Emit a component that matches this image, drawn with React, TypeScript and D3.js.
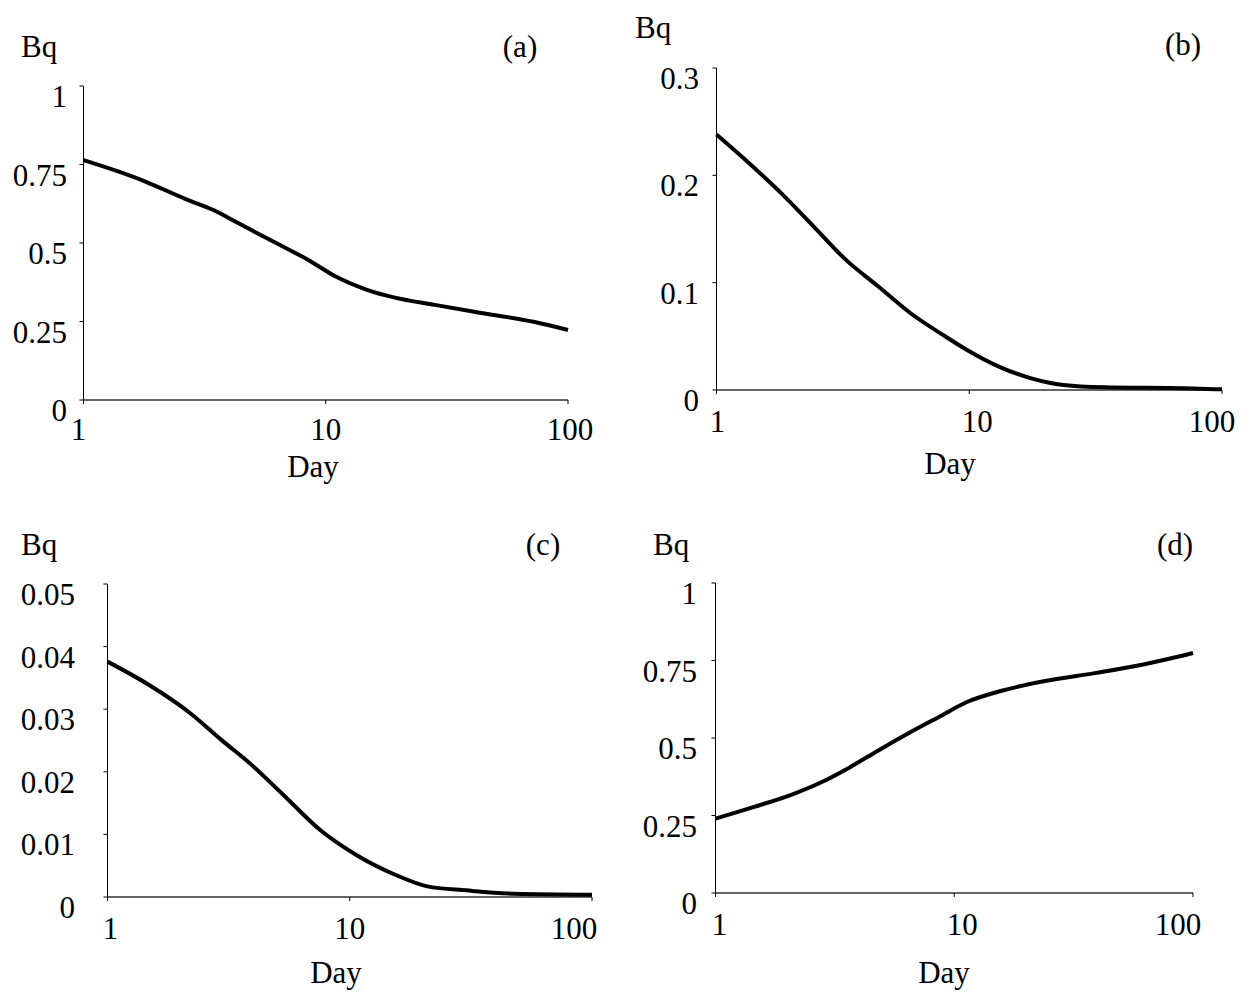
import React from "react";
import * as d3 from "d3";

// ---------- data ----------
const daysA = [1, 1.4, 1.81, 2.64, 3.44, 4.31, 6.27, 8.47, 11.0, 14.9, 19.3, 28.2, 41.0, 72.1, 100];
const valuesA = [0.764, 0.727, 0.695, 0.64, 0.605, 0.565, 0.499, 0.446, 0.393, 0.35, 0.326, 0.303, 0.281, 0.249, 0.223];

const daysB = [1, 1.35, 1.81, 2.43, 3.26, 4.37, 5.86, 7.87, 9.8, 13.1, 17.6, 23.6, 34.1, 71, 100];
const valuesB = [0.238, 0.211, 0.183, 0.152, 0.121, 0.0964, 0.0715, 0.0513, 0.0373, 0.0218, 0.0109, 0.0047, 0.0025, 0.0016, 0.0006];

const daysC = [1, 1.48, 2.19, 2.95, 3.99, 5.39, 7.55, 10.6, 15.4, 20.9, 30.4, 47.6, 100];
const valuesC = [0.0376, 0.0339, 0.0294, 0.0251, 0.0209, 0.0161, 0.0107, 0.00676, 0.00356, 0.0017, 0.00106, 0.00053, 0.00037];

const daysD = [1, 1.44, 2.13, 2.79, 3.66, 4.81, 6.57, 8.63, 11.3, 16.1, 23.7, 39.3, 62.7, 100];
const valuesD = [0.24, 0.277, 0.32, 0.358, 0.406, 0.46, 0.519, 0.568, 0.616, 0.654, 0.683, 0.71, 0.738, 0.774];

const xTicks = [1, 10, 100];
const xTickLabels = ["1", "10", "100"];
const yTicksA = [0, 0.25, 0.5, 0.75, 1];
const yTickLabelsA = ["0", "0.25", "0.5", "0.75", "1"];
const yTicksB = [0, 0.1, 0.2, 0.3];
const yTickLabelsB = ["0", "0.1", "0.2", "0.3"];
const yTicksC = [0, 0.01, 0.02, 0.03, 0.04, 0.05];
const yTickLabelsC = ["0", "0.01", "0.02", "0.03", "0.04", "0.05"];
const yTicksD = [0, 0.25, 0.5, 0.75, 1];
const yTickLabelsD = ["0", "0.25", "0.5", "0.75", "1"];

const panelTags = ["(a)", "(b)", "(c)", "(d)"];
const yAxisTitle = "Bq";
const xAxisTitle = "Day";

// ---------- layout ----------
const FONT = "'Liberation Serif', 'Times New Roman', serif";
const FS = 31;

type Panel = {
  days: number[];
  values: number[];
  yTicks: number[];
  yLabels: string[];
  yMax: number;
  left: number;
  right: number;
  top: number;
  bottom: number;
  labelRight: number;
  xLabelDy: number;
  bqX: number;
  bqY: number;
  tagX: number;
  tagY: number;
  dayX: number;
  dayY: number;
  xLabelDx: number[];
  tag: string;
};

const panels: Panel[] = [
  {
    days: daysA, values: valuesA, yTicks: yTicksA, yLabels: yTickLabelsA, yMax: 1,
    left: 83.5, right: 568, top: 86, bottom: 400, labelRight: 67, xLabelDy: 40,
    bqX: 21, bqY: 57, tagX: 520, tagY: 57, dayX: 313, dayY: 477,
    xLabelDx: [-5, 0, 2], tag: panelTags[0],
  },
  {
    days: daysB, values: valuesB, yTicks: yTicksB, yLabels: yTickLabelsB, yMax: 0.3,
    left: 716.5, right: 1222, top: 68, bottom: 390, labelRight: 699, xLabelDy: 42,
    bqX: 635, bqY: 38, tagX: 1183, tagY: 55, dayX: 950, dayY: 474,
    xLabelDx: [1, 8, -10], tag: panelTags[1],
  },
  {
    days: daysC, values: valuesC, yTicks: yTicksC, yLabels: yTickLabelsC, yMax: 0.05,
    left: 107.5, right: 592, top: 584, bottom: 897, labelRight: 75, xLabelDy: 42,
    bqX: 21, bqY: 555, tagX: 543, tagY: 555, dayX: 336, dayY: 983,
    xLabelDx: [3, 0, -18], tag: panelTags[2],
  },
  {
    days: daysD, values: valuesD, yTicks: yTicksD, yLabels: yTickLabelsD, yMax: 1,
    left: 715.5, right: 1193, top: 583, bottom: 893, labelRight: 697, xLabelDy: 42,
    bqX: 653, bqY: 555, tagX: 1175, tagY: 555, dayX: 944, dayY: 983,
    xLabelDx: [4, 8, -15], tag: panelTags[3],
  },
];

function PanelView({ p }: { p: Panel }) {
  const x = d3.scaleLog().domain([1, 100]).range([p.left, p.right]);
  const y = d3.scaleLinear().domain([0, p.yMax]).range([p.bottom, p.top]);
  const line = d3
    .line<number>()
    .x((_, i) => x(p.days[i]))
    .y((v) => y(v))
    .curve(d3.curveMonotoneX);
  const d = line(p.values) || "";
  return (
    <g>
      {/* y axis */}
      <line x1={p.left} x2={p.left} y1={p.top} y2={p.bottom} stroke="#000" strokeWidth={1} />
      {p.yTicks.map((t, i) => (
        <g key={"y" + i}>
          <line x1={p.left - 4} x2={p.left} y1={y(t)} y2={y(t)} stroke="#000" strokeWidth={1} />
          <text x={p.labelRight} y={y(t) + 21} textAnchor="end" fontFamily={FONT} fontSize={FS}>
            {p.yLabels[i]}
          </text>
        </g>
      ))}
      {/* x axis */}
      <line x1={p.left} x2={p.right} y1={p.bottom} y2={p.bottom} stroke="#333" strokeWidth={1.3} />
      {xTicks.map((t, i) => (
        <g key={"x" + i}>
          <line x1={x(t)} x2={x(t)} y1={p.bottom} y2={p.bottom + 4} stroke="#000" strokeWidth={1} />
          <text x={x(t) + p.xLabelDx[i]} y={p.bottom + p.xLabelDy} textAnchor="middle" fontFamily={FONT} fontSize={FS}>
            {xTickLabels[i]}
          </text>
        </g>
      ))}
      <path d={d} fill="none" stroke="#000" strokeWidth={4} strokeLinejoin="round" strokeLinecap="butt" />
      <text x={p.bqX} y={p.bqY} fontFamily={FONT} fontSize={FS}>{yAxisTitle}</text>
      <text x={p.tagX} y={p.tagY} textAnchor="middle" fontFamily={FONT} fontSize={FS}>{p.tag}</text>
      <text x={p.dayX} y={p.dayY} textAnchor="middle" fontFamily={FONT} fontSize={FS}>{xAxisTitle}</text>
    </g>
  );
}

export default function App() {
  return (
    <svg
      width={1253}
      height={992}
      viewBox="0 0 1253 992"
      style={{ position: "absolute", left: 0, top: 0, background: "#fff" }}
    >
      <rect x={0} y={0} width={1253} height={992} fill="#fff" />
      {panels.map((p, i) => (
        <PanelView key={i} p={p} />
      ))}
    </svg>
  );
}
